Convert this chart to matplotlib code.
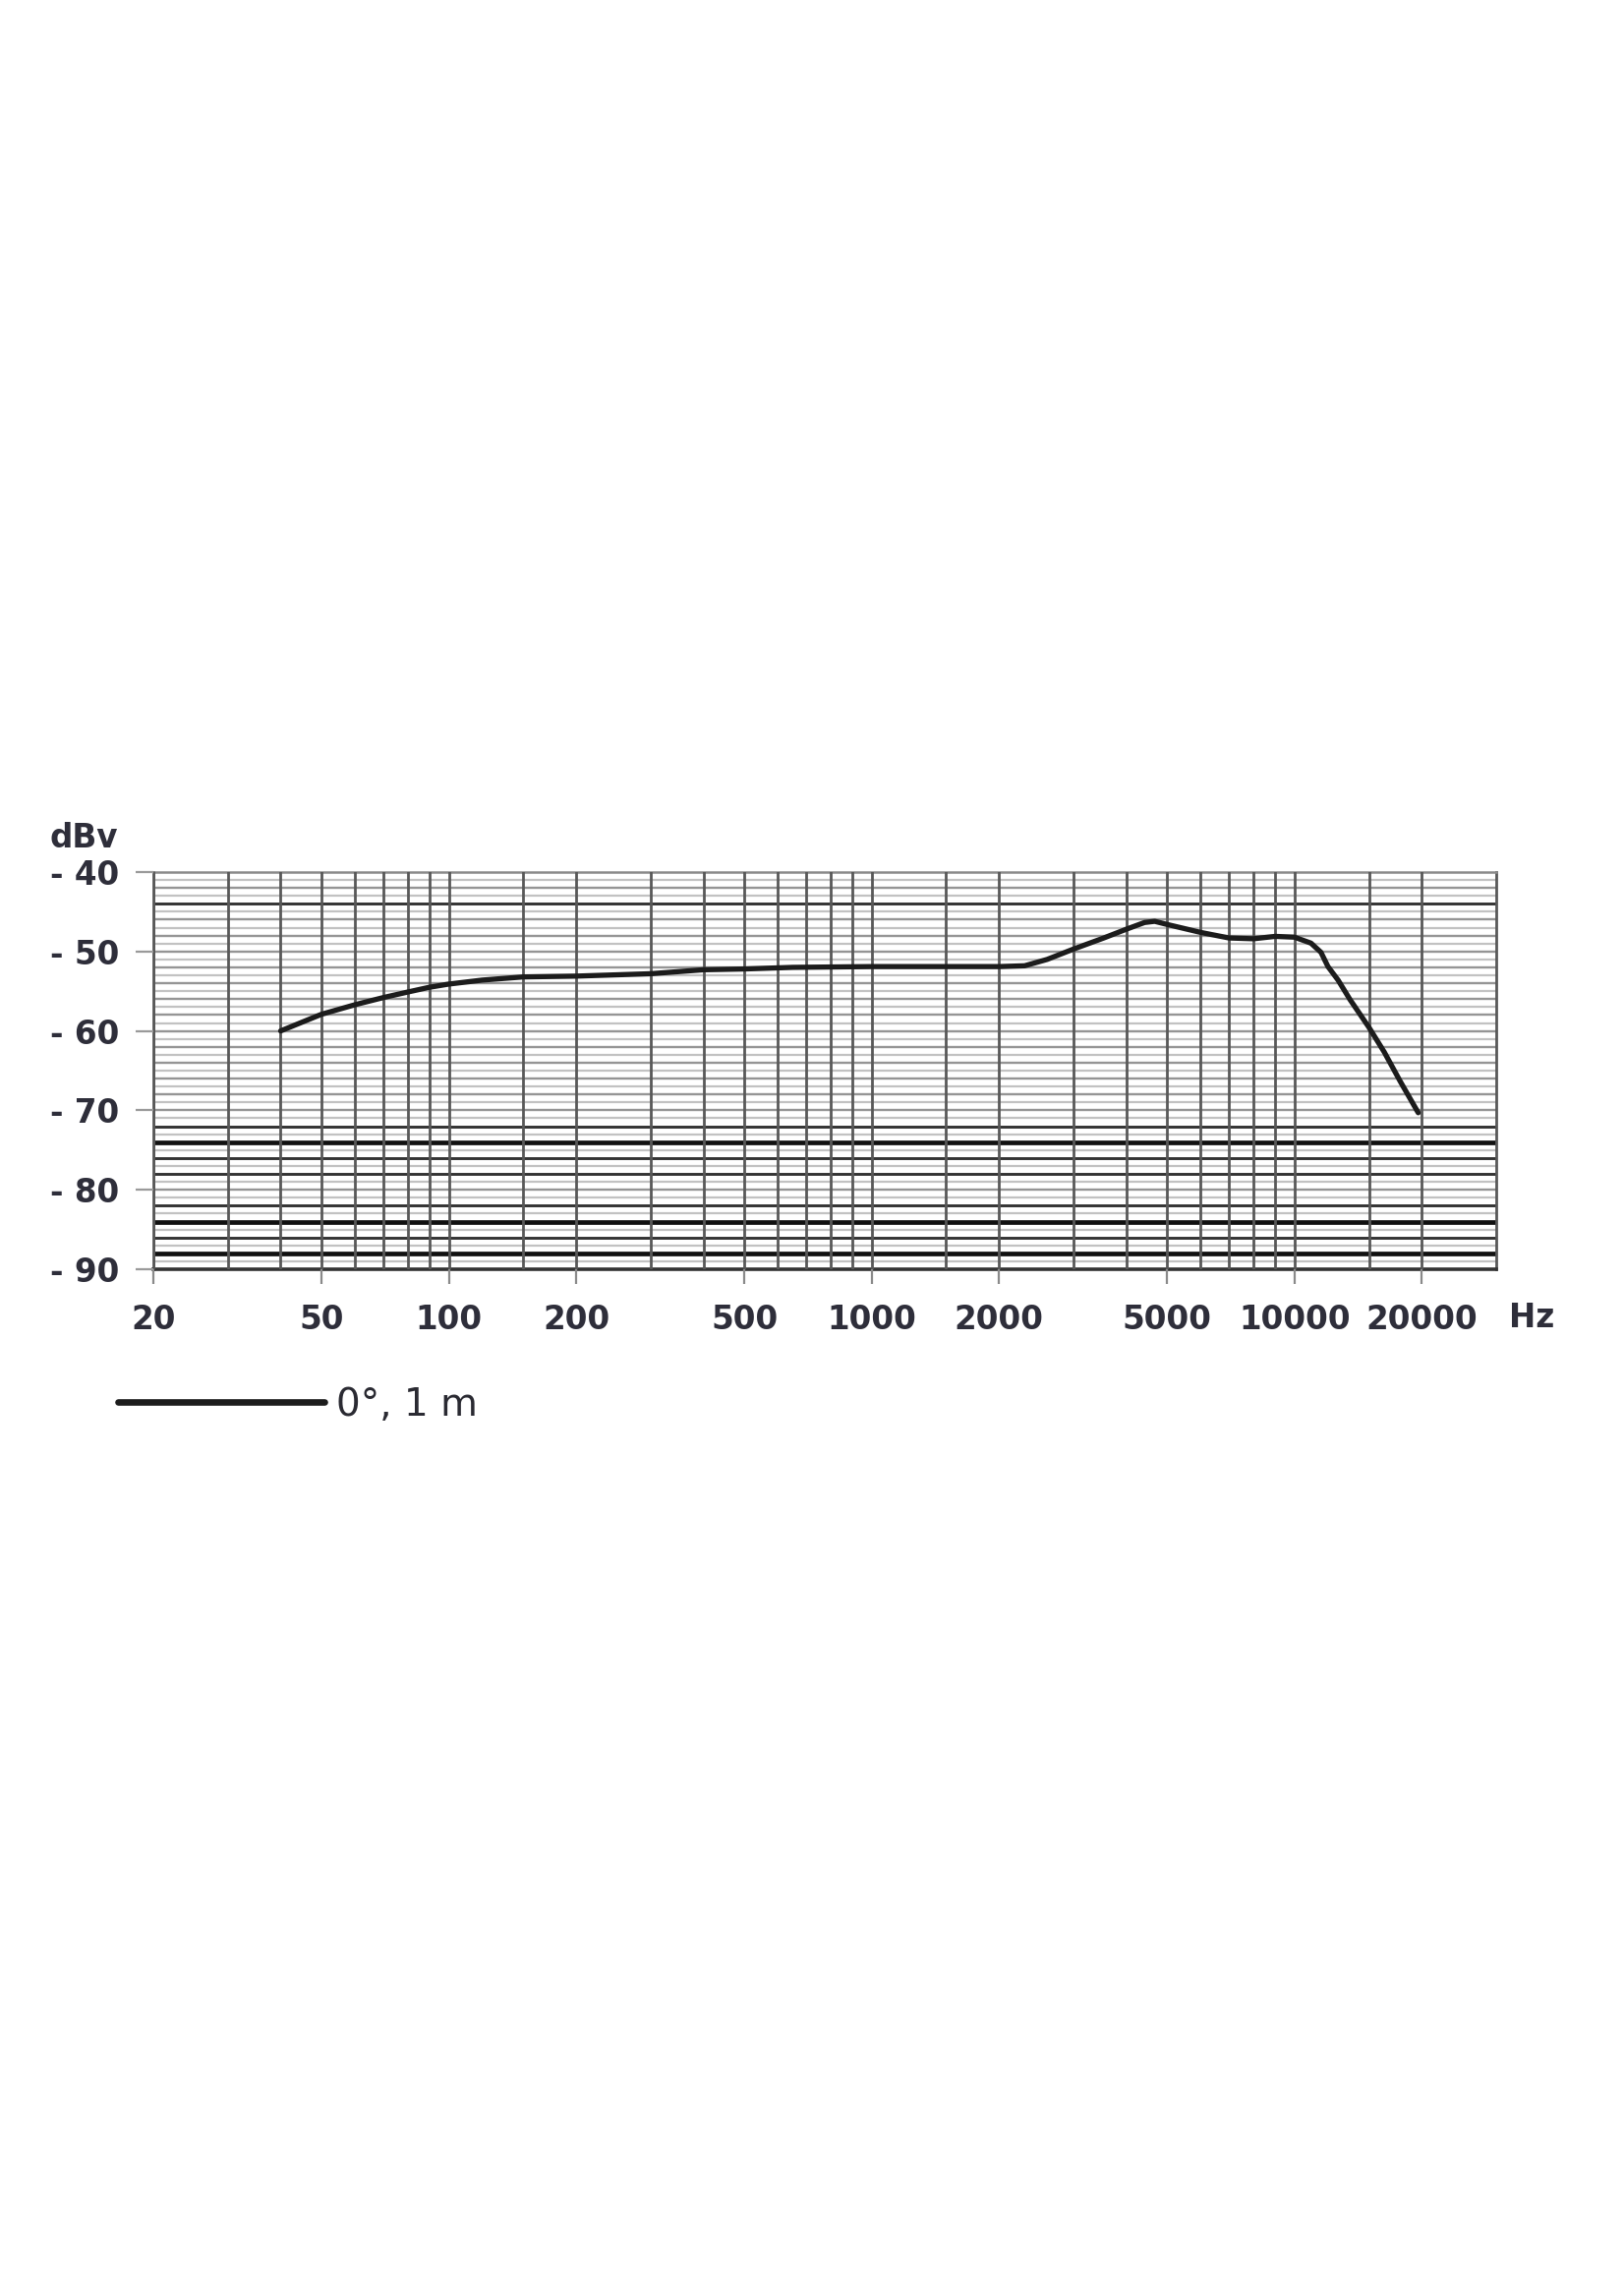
import matplotlib
matplotlib.use('Agg')
import matplotlib.pyplot as plt
from matplotlib.ticker import FixedLocator, FixedFormatter, NullFormatter

# ---- data ----
freq_hz = [40, 50, 60, 70, 80, 90, 100, 120, 150, 200, 300, 400, 500, 650,
           1000, 2000, 2300, 2600, 3000, 3540, 4000, 4420, 4670, 5000, 6000,
           7000, 8000, 9000, 10000, 10940, 11550, 12000, 12680, 13530, 15000,
           16300, 17810, 19620]
level_dbv = [-60.0, -57.9, -56.7, -55.8, -55.1, -54.5, -54.1, -53.6, -53.2,
             -53.1, -52.8, -52.3, -52.2, -52.0, -51.9, -51.9, -51.8, -51.0,
             -49.7, -48.3, -47.2, -46.35, -46.2, -46.6, -47.6, -48.3, -48.4,
             -48.1, -48.2, -48.95, -50.1, -51.9, -53.6, -56.05, -59.55, -62.65,
             -66.4, -70.3]
series_label = "0°, 1 m"

x_tick_values = [20, 50, 100, 200, 500, 1000, 2000, 5000, 10000, 20000]
x_tick_labels = ["20", "50", "100", "200", "500", "1000", "2000", "5000", "10000", "20000"]
x_grid_values = [30, 40, 60, 70, 80, 90, 150, 300, 400, 600, 700, 800, 900,
                 1500, 3000, 4000, 6000, 7000, 8000, 9000, 15000]
y_tick_values = [-40, -50, -60, -70, -80, -90]
y_tick_labels = ["- 40", "- 50", "- 60", "- 70", "- 80", "- 90"]
y_grid_levels = list(range(-89, -40))
thick_levels = [-74, -84, -88]
dark_levels = [-44, -72, -76, -78, -82, -86]

# ---- figure ----
W, H = 1652, 2313
fig = plt.figure(figsize=(W / 100, H / 100), dpi=100)
fig.patch.set_facecolor('white')
left, right, top, bottom = 156, 1522, 887, 1291
ax = fig.add_axes([left / W, 1 - bottom / H, (right - left) / W, (bottom - top) / H])

txt_color = '#2e2e3a'
font = ['DejaVu Sans']

# horizontal grid lines
for lv in y_grid_levels:
    if lv in thick_levels:
        c, lw = '#111111', 3.4
    elif lv in dark_levels:
        c, lw = '#333333', 2.1
    elif lv % 2 == 0:
        c, lw = '#959595', 1.7
    else:
        c, lw = '#c2c2c2', 1.6
    ax.axhline(lv, color=c, lw=lw, zorder=1)

ax.set_xscale('log')
ax.set_xlim(20, 30000)
ax.set_ylim(-90, -40)

# vertical grid
ax.xaxis.set_major_locator(FixedLocator(x_tick_values))
ax.xaxis.set_major_formatter(FixedFormatter(x_tick_labels))
ax.xaxis.set_minor_locator(FixedLocator(x_grid_values))
ax.xaxis.set_minor_formatter(NullFormatter())
ax.grid(True, axis='x', which='both', color='#585858', lw=2.0, zorder=2)
ax.set_axisbelow(False)

ax.set_yticks(y_tick_values)
ax.set_yticklabels(y_tick_labels)

ax.tick_params(axis='x', which='major', direction='out', length=11, width=1.6,
               color='#8a8a8a', pad=14, labelsize=23.5, labelcolor=txt_color)
ax.tick_params(axis='x', which='minor', length=0)
ax.tick_params(axis='y', which='major', direction='out', length=13, width=1.6,
               color='#9a9a9a', pad=12, labelsize=23.5, labelcolor=txt_color)
for lab in ax.get_xticklabels() + ax.get_yticklabels():
    lab.set_fontweight('bold')
    lab.set_family(font)

for side in ['left', 'right']:
    ax.spines[side].set_color('#585858')
    ax.spines[side].set_linewidth(2.0)
ax.spines['top'].set_color('#8a8a8a')
ax.spines['top'].set_linewidth(1.8)
ax.spines['bottom'].set_color('#333333')
ax.spines['bottom'].set_linewidth(2.6)

# curve
ax.plot(freq_hz, level_dbv, color='#1c1c1c', lw=3.8, solid_capstyle='round',
        solid_joinstyle='round', zorder=5, label=series_label)

# unit labels
fig.text(120 / W, 1 - 853 / H, "dBv", ha='right', va='center', fontsize=23.5,
         fontweight='bold', color=txt_color, family=font)
fig.text(1558 / W, 1 - 1340 / H, "Hz", ha='center', va='center', fontsize=23.5,
         fontweight='bold', color=txt_color, family=font)

# legend
leg = ax.legend(loc='center left', bbox_to_anchor=(120 / W, 1 - 1429 / H),
                bbox_transform=fig.transFigure, frameon=False, borderpad=0,
                borderaxespad=0, handlelength=5.4, handletextpad=0.3,
                prop={'size': 28, 'family': font})
for ln in leg.get_lines():
    ln.set_linewidth(4.8)
for t in leg.get_texts():
    t.set_color('#2a2a32')

fig.savefig('out.png', dpi=100, facecolor='white')
